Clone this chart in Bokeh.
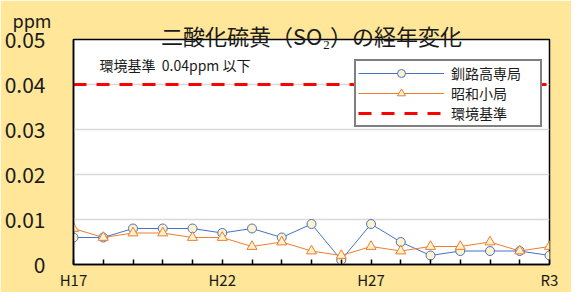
from bokeh.plotting import figure
from bokeh.models import Label, FixedTicker, NumeralTickFormatter, Legend, LegendItem, Range1d, Title
from bokeh.embed import file_html
from bokeh.resources import INLINE

years = ["H17", "H18", "H19", "H20", "H21", "H22", "H23", "H24", "H25", "H26",
         "H27", "H28", "H29", "H30", "R1", "R2", "R3"]
kushiro_kosen = [0.006, 0.006, 0.008, 0.008, 0.008, 0.007, 0.008, 0.006, 0.009, 0.001,
                 0.009, 0.005, 0.002, 0.003, 0.003, 0.003, 0.002]
showa_sho = [0.008, 0.006, 0.007, 0.007, 0.006, 0.006, 0.004, 0.005, 0.003, 0.002,
             0.004, 0.003, 0.004, 0.004, 0.005, 0.003, 0.004]
standard = 0.04
shown_labels = ["H17", "H22", "H27", "R3"]
y_ticks = [0, 0.01, 0.02, 0.03, 0.04, 0.05]

idx = list(range(len(years)))
FONT = "Noto Sans CJK JP"
BG = "#FFE699"
TXT = "#1a1a1a"

p = figure(width=571, height=292, output_backend="svg", toolbar_location=None,
           x_range=Range1d(0, len(years) - 1), y_range=Range1d(0, 0.05),
           min_border_left=73, min_border_right=22, min_border_top=39, min_border_bottom=28,
           background_fill_color="white", border_fill_color=BG)
p.outline_line_color = "black"
p.outline_line_width = 1.5

# unit label (top row of the above panel)
p.title.text = "ppm"
p.title.align = "left"
p.title.offset = -61
p.title.standoff = -8
p.title.text_font = FONT
p.title.text_font_size = "18px"
p.title.text_font_style = "normal"
p.title.text_color = TXT

main_title = Title(text="二酸化硫黄（SO₂）の経年変化", align="center",
                   standoff=-23, text_font=FONT, text_font_size="22px",
                   text_font_style="normal", text_color=TXT)
p.add_layout(main_title, "above")

p.xgrid.grid_line_color = None
p.ygrid.grid_line_color = "#D9D9D9"
p.ygrid.grid_line_width = 1.5
p.ygrid.ticker = FixedTicker(ticks=y_ticks)

p.xaxis.ticker = FixedTicker(ticks=idx)
p.xaxis.major_label_overrides = {i: (years[i] if years[i] in shown_labels else "") for i in idx}
p.xaxis.major_tick_in = 5
p.xaxis.major_tick_out = 0
p.xaxis.major_tick_line_color = "black"
p.xaxis.major_tick_line_width = 1.5
p.xaxis.minor_tick_line_color = None
p.xaxis.axis_line_color = "black"
p.xaxis.axis_line_width = 1.5
p.xaxis.major_label_text_font = FONT
p.xaxis.major_label_text_font_size = "15px"
p.xaxis.major_label_text_color = TXT
p.xaxis.major_label_standoff = 4

p.yaxis.ticker = FixedTicker(ticks=y_ticks)
p.yaxis.formatter = NumeralTickFormatter(format="0.[00]")
p.yaxis.major_tick_line_color = None
p.yaxis.minor_tick_line_color = None
p.yaxis.axis_line_color = "black"
p.yaxis.axis_line_width = 1.5
p.yaxis.major_label_text_font = FONT
p.yaxis.major_label_text_font_size = "21px"
p.yaxis.major_label_text_color = TXT
p.yaxis.major_label_standoff = 22

std_line = p.line(x=[idx[0], idx[-1]], y=[standard, standard], line_color="#FF0000",
                  line_width=3, line_dash="13 10")
kl = p.line(x=idx, y=kushiro_kosen, line_color="#4472C4", line_width=1)
km = p.scatter(x=idx, y=kushiro_kosen, marker="circle", size=9, fill_color="#FFF2CC",
               line_color="#4472C4", line_width=1)
sl = p.line(x=idx, y=showa_sho, line_color="#ED7D31", line_width=1)
sm = p.scatter(x=idx, y=showa_sho, marker="triangle", size=10, fill_color="#FFF2CC",
               line_color="#ED7D31", line_width=1)

legend = Legend(items=[
    LegendItem(label="釧路高専局", renderers=[kl, km]),
    LegendItem(label="昭和小局", renderers=[sl, sm]),
    LegendItem(label="環境基準", renderers=[std_line]),
], location=(281, 137))
legend.margin = 0
legend.padding = 2
legend.spacing = 0
legend.glyph_width = 86
legend.glyph_height = 20
legend.label_height = 20
legend.label_width = 87
legend.label_standoff = 7
legend.label_text_font = FONT
legend.label_text_font_size = "14px"
legend.label_text_color = TXT
legend.border_line_color = "black"
legend.border_line_width = 2
legend.background_fill_color = "white"
legend.background_fill_alpha = 1
p.add_layout(legend)

p.add_layout(Label(x=0.875, y=0.0444, text="環境基準\u00a0\u00a00.04ppm\u00a0以下", text_font=FONT,
                   text_font_size="14px", text_color=TXT, text_baseline="middle"))

open("out.html", "w").write(file_html(p, INLINE))
